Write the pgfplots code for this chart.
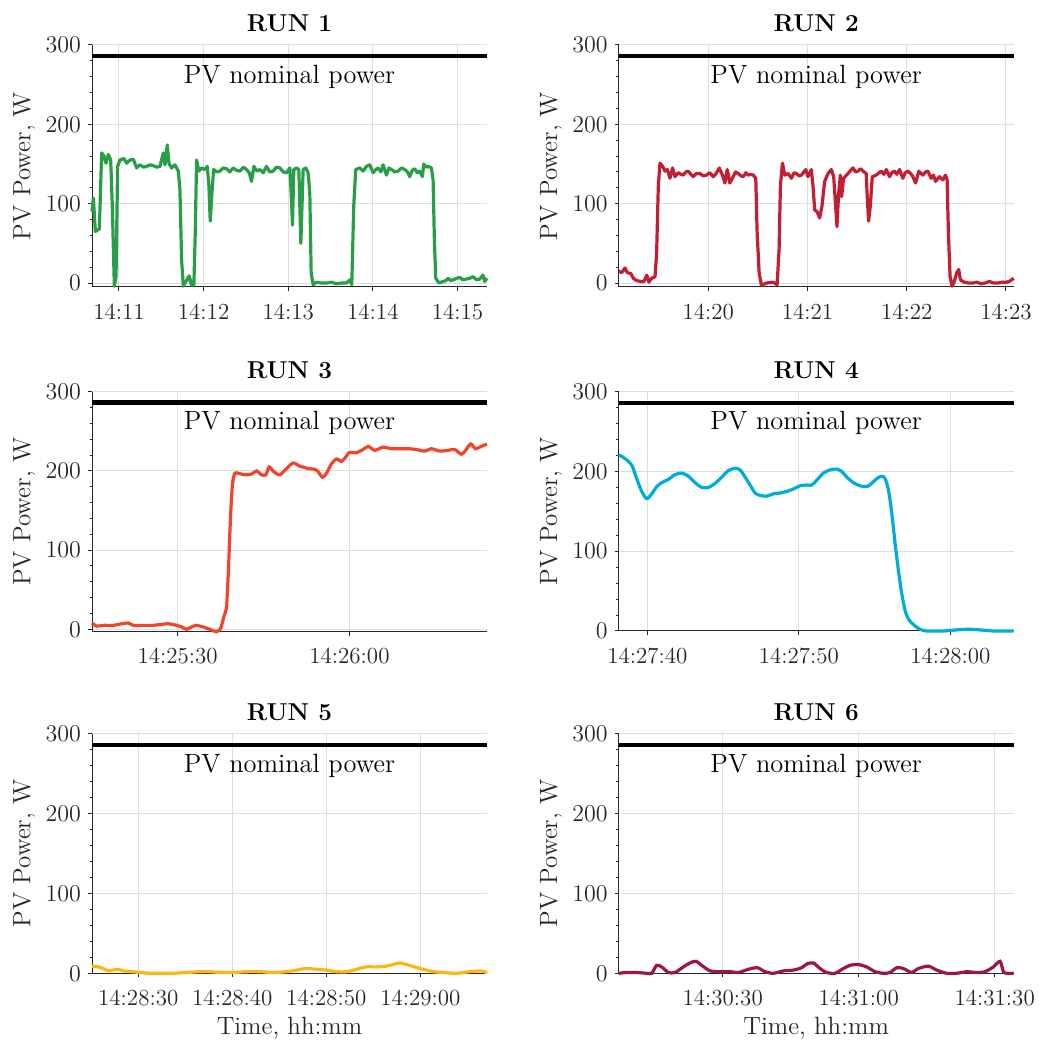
\documentclass[border=0pt]{standalone}
\usepackage{pgfplots}
\pgfplotsset{compat=1.18}
\definecolor{axc}{RGB}{38,38,38}
\definecolor{gridc}{RGB}{222,222,222}
\definecolor{cA}{RGB}{40,158,72}
\definecolor{cB}{RGB}{196,30,52}
\definecolor{cC}{RGB}{240,68,43}
\definecolor{cD}{RGB}{0,172,218}
\definecolor{cE}{RGB}{253,183,20}
\definecolor{cF}{RGB}{156,24,62}
\pgfplotsset{runax/.style={
  scale only axis, width=197.5pt, anchor=south west,
  axis x line*=bottom, axis y line*=left,
  axis line style={axc, line width=0.5pt},
  every tick/.style={axc, line width=0.5pt},
  tick align=outside,
  major tick length=2pt, minor tick length=1.2pt,
  ymax=300, ytick={0,100,200,300}, minor y tick num=4,
  grid=major, major grid style={gridc, line width=0.5pt},
  ticklabel style={font=\fontsize{11.5}{13}\selectfont, text=axc},
  xticklabel style={yshift=-2.8pt},
  title style={at={(axis description cs:0.5,1)}, anchor=base, yshift=0.5pt, font=\bfseries\fontsize{12.2}{14}\selectfont},
  ylabel={PV Power, W},
  ylabel style={at={(axis description cs:-0.1557,0.5)}, anchor=base, font=\fontsize{12.5}{14}\selectfont, text=axc},
  xlabel style={at={(axis description cs:0.5,0)}, anchor=base, yshift=-30.5pt, font=\fontsize{12.5}{14}\selectfont, text=axc},
  clip=false,
}}
\tikzset{nomtxt/.style={anchor=base, font=\fontsize{13.2}{15}\selectfont, text=black}}
\begin{document}
\begin{tikzpicture}
\useasboundingbox (0,0) rectangle (519pt,521pt);
% ---------------- RUN 1
\begin{axis}[runax, at={(46pt,377.5pt)}, height=121pt, ymin=-5,
  xmin=10.681, xmax=15.349, xtick={11,12,13,14,15},
  xticklabels={14:11,14:12,14:13,14:14,14:15}, title={RUN 1}]
\addplot[black, line width=2.3pt] coordinates {(10.681,286) (15.349,286)};
\node[nomtxt] at (axis cs:13.015,252) {PV nominal power};
\addplot[cA, line width=1.6pt, line join=round] coordinates {
(10.681,90) (10.697,107) (10.721,65) (10.768,68) (10.795,164) (10.823,160) (10.847,151)
(10.874,162) (10.902,155) (10.921,97) (10.945,-4) (10.965,8) (10.984,147) (11.012,155)
(11.059,157) (11.091,151) (11.130,155) (11.169,156) (11.209,145) (11.248,149) (11.290,146)
(11.327,147) (11.365,149) (11.405,148) (11.445,146) (11.484,147) (11.523,164) (11.543,149)
(11.571,174) (11.590,151) (11.622,145) (11.661,149) (11.701,141) (11.720,118) (11.740,29)
(11.760,-4) (11.791,2) (11.830,9) (11.858,-3) (11.885,-2) (11.901,63) (11.917,155)
(11.944,141) (11.976,145) (12.015,143) (12.043,147) (12.063,122) (12.078,78) (12.098,113)
(12.118,143) (12.155,140) (12.192,141) (12.230,145) (12.271,144) (12.310,140) (12.350,145)
(12.390,142) (12.429,141) (12.470,146) (12.507,143) (12.540,139) (12.566,128) (12.594,147)
(12.630,141) (12.665,143) (12.705,139) (12.743,147) (12.780,140) (12.822,141) (12.860,146)
(12.901,145) (12.940,140) (12.980,139) (13.019,145) (13.039,105) (13.050,73) (13.066,143)
(13.098,145) (13.125,143) (13.137,97) (13.149,50) (13.165,105) (13.176,143) (13.208,145)
(13.235,139) (13.255,113) (13.271,13) (13.294,-2) (13.334,1) (13.390,0) (13.452,0)
(13.510,1) (13.570,-1) (13.630,0) (13.688,0) (13.727,4) (13.751,-2) (13.774,97)
(13.798,143) (13.845,145) (13.885,141) (13.924,147) (13.963,149) (14.003,139) (14.035,143)
(14.062,145) (14.095,140) (14.121,149) (14.160,136) (14.190,145) (14.219,143) (14.260,140)
(14.298,141) (14.340,145) (14.377,143) (14.410,140) (14.436,134) (14.465,142) (14.495,144)
(14.525,139) (14.554,141) (14.586,134) (14.601,150) (14.630,146) (14.653,147) (14.692,145)
(14.712,130) (14.727,55) (14.743,6) (14.782,0) (14.830,2) (14.860,3) (14.889,6)
(14.920,3) (14.948,4) (14.990,6) (15.027,7) (15.065,4) (15.105,5) (15.145,6)
(15.184,8) (15.225,4) (15.263,5) (15.302,10) (15.322,2) (15.349,6)};
\end{axis}
% ---------------- RUN 2
\begin{axis}[runax, at={(309.35pt,377.5pt)}, height=121pt, ymin=-5,
  xmin=19.098, xmax=23.078, xtick={20,21,22,23},
  xticklabels={14:20,14:21,14:22,14:23}, title={RUN 2}]
\addplot[black, line width=2.3pt] coordinates {(19.098,286) (23.078,286)};
\node[nomtxt] at (axis cs:21.088,252) {PV nominal power};
\addplot[cB, line width=1.6pt, line join=round] coordinates {
(19.098,15) (19.128,13) (19.162,19) (19.185,13) (19.219,12) (19.246,6) (19.279,3)
(19.319,2) (19.353,2) (19.380,10) (19.403,1) (19.430,6) (19.464,8) (19.480,38)
(19.497,122) (19.514,151) (19.541,147) (19.564,141) (19.588,143) (19.614,132) (19.641,145)
(19.665,134) (19.698,139) (19.725,137) (19.749,136) (19.775,140) (19.799,141) (19.825,137)
(19.849,134) (19.880,138) (19.916,138) (19.950,135) (19.983,136) (20.015,139) (20.050,134)
(20.080,138) (20.111,145) (20.144,136) (20.168,126) (20.191,143) (20.218,126) (20.251,134)
(20.275,140) (20.302,138) (20.330,135) (20.352,134) (20.380,139) (20.402,136) (20.430,137)
(20.453,136) (20.479,132) (20.493,63) (20.513,13) (20.536,-3) (20.587,0) (20.654,1)
(20.694,-2) (20.714,42) (20.727,122) (20.748,151) (20.771,136) (20.805,138) (20.838,132)
(20.865,139) (20.888,138) (20.915,135) (20.939,136) (20.982,143) (21.005,134) (21.039,143)
(21.056,122) (21.073,92) (21.096,90) (21.123,82) (21.146,97) (21.173,128) (21.207,138)
(21.240,143) (21.264,134) (21.284,97) (21.297,71) (21.314,113) (21.331,136) (21.344,109)
(21.364,132) (21.408,138) (21.458,145) (21.485,140) (21.508,141) (21.535,144) (21.559,141)
(21.592,138) (21.602,109) (21.616,78) (21.633,97) (21.653,134) (21.693,136) (21.720,139)
(21.743,141) (21.770,137) (21.794,143) (21.827,134) (21.850,139) (21.877,141) (21.900,137)
(21.928,143) (21.961,132) (21.985,139) (22.011,141) (22.040,138) (22.062,134) (22.089,126)
(22.122,141) (22.162,136) (22.190,140) (22.213,141) (22.246,132) (22.270,136) (22.290,128)
(22.330,134) (22.364,130) (22.390,136) (22.407,130) (22.420,63) (22.437,8) (22.457,-4)
(22.480,2) (22.504,13) (22.524,17) (22.541,4) (22.581,1) (22.620,0) (22.665,0)
(22.710,1) (22.749,-1) (22.790,0) (22.833,2) (22.875,0) (22.917,0) (22.960,1)
(23.000,1) (23.034,2) (23.078,6)};
\end{axis}
% ---------------- RUN 3
\begin{axis}[runax, at={(46pt,205.15pt)}, height=120pt, ymin=-3,
  xmin=15.06, xmax=84.01, xtick={30,60},
  xticklabels={14:25:30,14:26:00}, title={RUN 3}]
\addplot[black, line width=2.3pt] coordinates {(15.06,286) (84.01,286)};
\node[nomtxt] at (axis cs:49.535,252) {PV nominal power};
\addplot[cC, line width=1.6pt, smooth, tension=0.4] coordinates {
(15.06,8) (15.87,4) (17.03,5) (18.78,5) (20.23,7) (21.40,8) (22.27,5) (24.01,5)
(25.76,5) (26.92,6) (28.37,7) (29.83,5) (30.70,3) (31.57,0) (32.44,3) (33.31,5)
(34.48,3) (35.64,0) (36.80,-3) (37.50,1) (38.08,16) (38.55,29) (38.90,79) (39.24,142)
(39.59,184) (40.00,197) (40.58,197) (41.74,195) (42.91,196) (43.78,200) (44.65,195)
(45.41,195) (45.99,205) (46.80,199) (47.85,195) (49.01,203) (50.17,210) (51.34,206)
(52.79,203) (53.95,202) (54.53,199) (55.29,192) (55.99,197) (56.86,209) (57.73,215)
(58.60,212) (59.19,216) (59.94,223) (61.22,223) (62.38,227) (63.26,231) (64.42,226)
(65.87,230) (67.33,228) (68.78,228) (70.23,228) (71.69,227) (73.14,225) (74.30,228)
(75.76,225) (77.21,226) (78.37,227) (79.53,221) (80.29,226) (81.16,234) (82.03,228)
(83.02,231) (84.01,234)};
\end{axis}
% ---------------- RUN 4
\begin{axis}[runax, at={(309.35pt,205.5pt)}, height=119.65pt, ymin=0,
  xmin=38.11, xmax=64.18, xtick={40,50,60},
  xticklabels={14:27:40,14:27:50,14:28:00}, title={RUN 4}]
\addplot[black, line width=2.3pt] coordinates {(38.11,286) (64.18,286)};
\node[nomtxt] at (axis cs:51.145,252) {PV nominal power};
\addplot[cD, line width=1.6pt, smooth, tension=0.5] coordinates {
(38.11,221) (38.53,216) (38.97,208) (39.30,191) (39.63,175) (39.96,166) (40.29,172)
(40.62,181) (40.95,186) (41.39,190) (41.83,196) (42.27,198) (42.71,194) (43.15,186)
(43.59,180) (44.03,180) (44.47,185) (44.91,193) (45.35,201) (45.79,204) (46.12,202)
(46.45,193) (46.78,183) (47.11,173) (47.44,170) (47.88,169) (48.32,172) (48.76,173)
(49.20,175) (49.64,178) (50.08,182) (50.52,183) (50.85,183) (51.18,189) (51.62,198)
(52.06,202) (52.50,203) (52.83,200) (53.16,193) (53.60,186) (54.04,182) (54.48,181)
(54.81,185) (55.14,191) (55.47,194) (55.69,191) (55.91,177) (56.13,148) (56.35,110)
(56.57,76) (56.79,47) (57.01,26) (57.23,15) (57.56,8) (58.00,2) (58.44,0) (58.99,0)
(59.54,0) (60.20,1) (60.86,2) (61.52,2) (62.18,1) (62.84,0) (63.50,0) (64.18,0)};
\end{axis}
% ---------------- RUN 5
\begin{axis}[runax, at={(46pt,34.35pt)}, height=119.8pt, ymin=0,
  xmin=25.08, xmax=67.09, xtick={30,40,50,60},
  xticklabels={14:28:30,14:28:40,14:28:50,14:29:00}, title={RUN 5},
  xlabel={Time, hh:mm}]
\addplot[black, line width=2.3pt] coordinates {(25.08,286) (67.09,286)};
\node[nomtxt] at (axis cs:46.085,252) {PV nominal power};
\addplot[cE, line width=1.6pt, smooth, tension=0.5] coordinates {
(25.08,9) (25.75,8) (26.28,6) (26.81,3) (27.34,4) (27.87,5) (28.41,3) (29.29,2)
(30.18,1) (31.24,0) (32.30,0) (33.72,0) (35.14,1) (36.55,2) (37.62,2) (38.69,1)
(40.11,1) (41.51,2) (42.93,2) (44.35,1) (45.76,2) (46.83,4) (47.89,6) (48.95,5)
(50.01,4) (51.08,2) (52.14,2) (53.20,5) (54.27,8) (55.33,8) (56.39,9) (57.10,11)
(57.81,13) (58.52,11) (59.40,8) (60.29,5) (61.35,2) (62.41,1) (63.83,0) (65.25,2)
(66.31,3) (66.84,2) (67.09,0)};
\end{axis}
% ---------------- RUN 6
\begin{axis}[runax, at={(309.35pt,34.35pt)}, height=119.8pt, ymin=0,
  xmin=7.06, xmax=94.19, xtick={30,60,90},
  xticklabels={14:30:30,14:31:00,14:31:30}, title={RUN 6},
  xlabel={Time, hh:mm}]
\addplot[black, line width=2.3pt] coordinates {(7.06,286) (94.19,286)};
\node[nomtxt] at (axis cs:50.625,252) {PV nominal power};
\addplot[cF, line width=1.6pt, smooth, tension=0.4] coordinates {
(7.06,0) (8.82,1) (11.03,1) (13.24,0) (14.34,0) (15.44,10) (16.54,8) (18.01,1)
(19.49,1) (21.32,8) (22.79,13) (24.12,15) (25.59,9) (27.21,3) (29.41,2) (31.62,2)
(33.46,1) (35.66,5) (37.65,7) (39.34,2) (41.18,0) (43.38,3) (45.59,4) (47.43,7)
(48.68,12) (50.00,13) (51.47,6) (52.94,1) (54.78,0) (56.62,6) (58.09,10) (59.93,11)
(61.76,8) (63.60,2) (65.44,0) (66.91,1) (68.38,7) (69.85,6) (71.69,1) (73.16,6)
(75.37,9) (77.21,4) (79.41,0) (81.62,0) (83.82,2) (86.03,1) (87.87,2) (89.71,8)
(91.18,15) (91.91,2) (92.65,0) (94.19,0)};
\end{axis}
\end{tikzpicture}
\end{document}
